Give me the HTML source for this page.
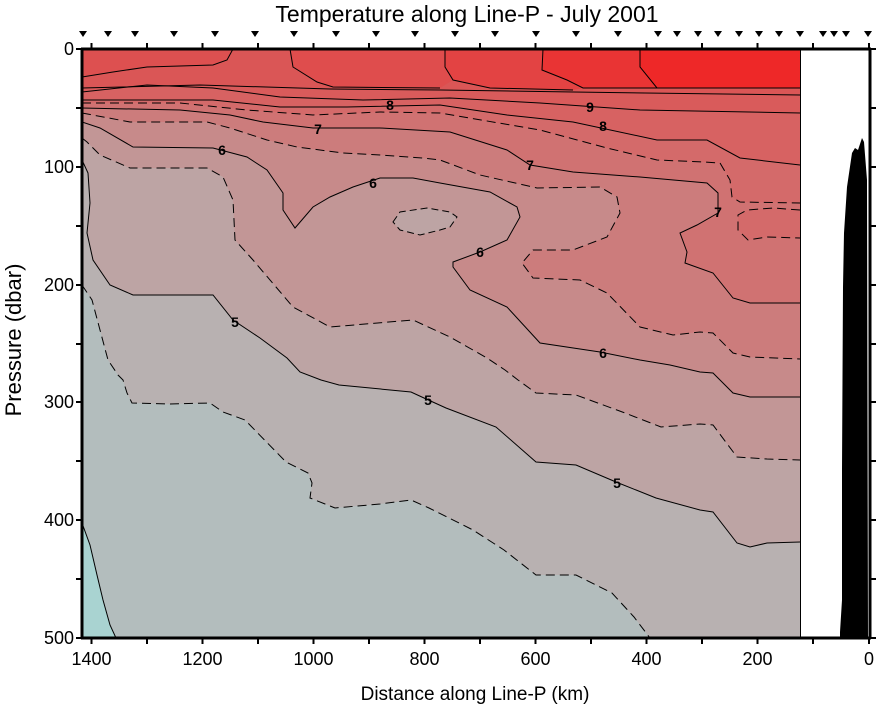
<!DOCTYPE html>
<html><head><meta charset="utf-8"><style>
html,body{margin:0;padding:0;background:#fff;width:878px;height:708px;overflow:hidden}
svg{display:block}
text{font-family:"Liberation Sans",sans-serif}
</style></head><body>
<svg width="878" height="708" viewBox="0 0 878 708" xmlns="http://www.w3.org/2000/svg">
<defs><clipPath id="c"><rect x="82" y="49" width="718" height="589"/></clipPath></defs>
<g clip-path="url(#c)">
<rect x="82" y="49" width="718" height="589" fill="#a9d3d1"/>
<polygon fill="#b3bdbd" points="82,523 90,545 97,575 103,600 110,625 116,638 800,638 800,49 82,49"/>
<polygon fill="#b8b1b1" points="82,285 92,300 100,330 108,360 118,375 123,380 127,393 132,403 170,404 210,403 223,412 245,420 286,462 308,473 312,483 310,498 335,508 380,504 411,500 429,508 473,530 504,550 536,575 576,575 612,593 634,617 650,638 800,638 800,49 82,49"/>
<polygon fill="#bda4a4" points="82,160 88,173 90,203 87,233 93,260 110,285 133,295 213,295 233,320 260,338 287,358 300,372 321,380 339,385 411,392 424,398 446,408 496,427 536,462 576,465 616,482 656,498 700,510 713,512 737,543 750,547 767,543 800,542 800,49 82,49"/>
<polygon fill="#c29696" points="82,138 87,142 100,155 130,168 207,168 223,177 233,200 235,240 253,260 293,307 330,327 413,320 450,337 487,358 505,370 518,380 536,393 576,395 625,413 661,427 700,424 713,425 737,457 767,459 800,460 800,49 82,49"/>
<polygon fill="#c78a8a" points="82,122 100,128 133,147 213,148 247,157 267,170 283,193 283,210 295,228 313,207 330,197 353,187 380,178 413,178 440,183 490,192 517,207 520,217 507,240 480,252 453,262 453,267 470,290 507,307 540,343 600,352 640,360 670,365 700,372 713,373 733,393 750,397 800,397 800,49 82,49"/>
<polygon fill="#cc7c7c" points="82,113 130,122 207,122 230,128 267,140 297,147 343,153 380,155 423,158 440,160 480,175 537,188 600,187 617,197 620,213 607,237 573,250 533,250 522,263 533,278 580,280 607,293 640,327 673,335 700,332 713,333 733,353 750,357 800,359 800,49 82,49"/>
<polygon fill="#d07272" points="82,108 180,110 230,115 263,122 313,128 380,128 450,132 507,150 530,165 573,172 640,177 707,183 718,193 718,213 697,225 680,233 687,252 685,263 713,273 733,298 750,303 800,303 800,49 82,49"/>
<polygon fill="#d46a6a" points="82,103 180,103 247,110 313,115 380,112 440,113 540,130 607,148 657,160 703,162 720,163 730,180 732,197 740,202 800,203 800,49 82,49"/>
<polygon fill="#d46a6a" points="800,210 773,208 747,210 738,215 738,230 748,240 767,237 800,238"/>
<polygon fill="#d76262" points="82,100 213,100 280,107 347,107 440,105 507,115 573,122 657,140 707,140 740,158 800,165 800,49 82,49"/>
<polygon fill="#d95b5b" points="82,92 147,85 213,88 280,97 363,100 450,98 540,103 640,110 800,113 800,49 82,49"/>
<polygon fill="#da5656" points="82,88 200,85 330,89 440,90 573,92 800,95 800,49 82,49"/>
<polygon fill="#dd5050" points="82,49 233,49 227,60 213,65 147,67 113,72 82,77"/>
<polygon fill="#df4d4d" points="290,49 293,67 317,82 333,87 440,88 453,80 445,67 445,49"/>
<polygon fill="#e34343" points="445,49 445,67 453,80 490,88 573,90 583,88 567,80 542,70 543,49"/>
<polygon fill="#e93434" points="543,49 542,70 567,80 583,88 657,88 640,67 640,49"/>
<polygon fill="#ee2828" points="640,49 640,67 657,88 800,88 800,49"/>
<polygon fill="#bda4a4" points="393,222 400,212 427,208 450,212 457,217 450,227 440,230 420,235 400,230"/>
<g fill="none" stroke="#000" stroke-width="1">
<polyline points="82,523 90,545 97,575 103,600 110,625 116,638"/>
<polyline stroke-dasharray="9,5" points="82,285 92,300 100,330 108,360 118,375 123,380 127,393 132,403 170,404 210,403 223,412 245,420 286,462 308,473 312,483 310,498 335,508 380,504 411,500 429,508 473,530 504,550 536,575 576,575 612,593 634,617 650,638"/>
<polyline points="82,160 88,173 90,203 87,233 93,260 110,285 133,295 213,295 233,320 260,338 287,358 300,372 321,380 339,385 411,392 424,398 446,408 496,427 536,462 576,465 616,482 656,498 700,510 713,512 737,543 750,547 767,543 800,542"/>
<polyline stroke-dasharray="9,5" points="82,138 87,142 100,155 130,168 207,168 223,177 233,200 235,240 253,260 293,307 330,327 413,320 450,337 487,358 505,370 518,380 536,393 576,395 625,413 661,427 700,424 713,425 737,457 767,459 800,460"/>
<polyline points="82,122 100,128 133,147 213,148 247,157 267,170 283,193 283,210 295,228 313,207 330,197 353,187 380,178 413,178 440,183 490,192 517,207 520,217 507,240 480,252 453,262 453,267 470,290 507,307 540,343 600,352 640,360 670,365 700,372 713,373 733,393 750,397 800,397"/>
<polyline stroke-dasharray="9,5" points="82,113 130,122 207,122 230,128 267,140 297,147 343,153 380,155 423,158 440,160 480,175 537,188 600,187 617,197 620,213 607,237 573,250 533,250 522,263 533,278 580,280 607,293 640,327 673,335 700,332 713,333 733,353 750,357 800,359"/>
<polyline points="82,108 180,110 230,115 263,122 313,128 380,128 450,132 507,150 530,165 573,172 640,177 707,183 718,193 718,213 697,225 680,233 687,252 685,263 713,273 733,298 750,303 800,303"/>
<polyline stroke-dasharray="9,5" points="82,103 180,103 247,110 313,115 380,112 440,113 540,130 607,148 657,160 703,162 720,163 730,180 732,197 740,202 800,203"/>
<polyline stroke-dasharray="9,5" points="800,210 773,208 747,210 738,215 738,230 748,240 767,237 800,238"/>
<polyline points="82,100 213,100 280,107 347,107 440,105 507,115 573,122 657,140 707,140 740,158 800,165"/>
<polyline points="82,92 147,85 213,88 280,97 363,100 450,98 540,103 640,110 800,113"/>
<polyline points="82,88 200,85 330,89 440,90 573,92 800,95"/>
<polyline points="233,49 227,60 213,65 147,67 113,72 82,77"/>
<polyline points="290,49 293,67 317,82 333,87 440,88"/>
<polyline points="445,49 445,67 453,80 490,88 573,90"/>
<polyline points="543,49 542,70 567,80 583,88 657,88"/>
<polyline points="640,49 640,67 657,88 800,88"/>
<polygon stroke-dasharray="7,4" points="393,222 400,212 427,208 450,212 457,217 450,227 440,230 420,235 400,230"/>
</g>
<g font-size="14" font-weight="bold" text-anchor="middle" fill="#000">
<text x="390" y="110">8</text><text x="590" y="112">9</text><text x="603" y="131">8</text>
<text x="318" y="134">7</text><text x="530" y="170">7</text><text x="718" y="217">7</text>
<text x="222" y="155">6</text><text x="373" y="188">6</text><text x="480" y="257">6</text>
<text x="603" y="358">6</text><text x="235" y="327">5</text><text x="428" y="405">5</text><text x="617" y="488">5</text>
</g>
</g>
<polygon fill="#000" points="840,638 840,632 842,600 842,470 843,287 844,233 847,187 852,153 855,148 858,150 862,138 864,142 867,180 868,638"/>
<rect x="800" y="49" width="1" height="589" fill="#000"/>
<g stroke="#000" stroke-width="3" fill="none">
<line x1="81" y1="49" x2="871" y2="49"/>
<line x1="81" y1="638" x2="871" y2="638"/>
<line x1="82" y1="48" x2="82" y2="639"/>
<line x1="870" y1="48" x2="870" y2="639"/>
</g>
<g stroke="#000" stroke-width="2">
<line x1="76" y1="49" x2="82" y2="49"/><line x1="76" y1="108" x2="82" y2="108"/><line x1="76" y1="167" x2="82" y2="167"/><line x1="76" y1="226" x2="82" y2="226"/><line x1="76" y1="285" x2="82" y2="285"/><line x1="76" y1="344" x2="82" y2="344"/><line x1="76" y1="402" x2="82" y2="402"/><line x1="76" y1="461" x2="82" y2="461"/><line x1="76" y1="520" x2="82" y2="520"/><line x1="76" y1="579" x2="82" y2="579"/><line x1="76" y1="638" x2="82" y2="638"/>
<line x1="870" y1="49" x2="876" y2="49"/><line x1="870" y1="108" x2="876" y2="108"/><line x1="870" y1="167" x2="876" y2="167"/><line x1="870" y1="226" x2="876" y2="226"/><line x1="870" y1="285" x2="876" y2="285"/><line x1="870" y1="344" x2="876" y2="344"/><line x1="870" y1="402" x2="876" y2="402"/><line x1="870" y1="461" x2="876" y2="461"/><line x1="870" y1="520" x2="876" y2="520"/><line x1="870" y1="579" x2="876" y2="579"/><line x1="870" y1="638" x2="876" y2="638"/>
</g>
<g stroke="#000" stroke-width="2">
<line x1="91.5" y1="638" x2="91.5" y2="644"/><line x1="147" y1="638" x2="147" y2="644"/><line x1="202.5" y1="638" x2="202.5" y2="644"/><line x1="258" y1="638" x2="258" y2="644"/><line x1="313.5" y1="638" x2="313.5" y2="644"/><line x1="369" y1="638" x2="369" y2="644"/><line x1="424.5" y1="638" x2="424.5" y2="644"/><line x1="480" y1="638" x2="480" y2="644"/><line x1="535.5" y1="638" x2="535.5" y2="644"/><line x1="591" y1="638" x2="591" y2="644"/><line x1="646.5" y1="638" x2="646.5" y2="644"/><line x1="702" y1="638" x2="702" y2="644"/><line x1="757.5" y1="638" x2="757.5" y2="644"/><line x1="813" y1="638" x2="813" y2="644"/><line x1="869" y1="638" x2="869" y2="644"/>
<line x1="91.5" y1="43" x2="91.5" y2="49"/><line x1="147" y1="43" x2="147" y2="49"/><line x1="202.5" y1="43" x2="202.5" y2="49"/><line x1="258" y1="43" x2="258" y2="49"/><line x1="313.5" y1="43" x2="313.5" y2="49"/><line x1="369" y1="43" x2="369" y2="49"/><line x1="424.5" y1="43" x2="424.5" y2="49"/><line x1="480" y1="43" x2="480" y2="49"/><line x1="535.5" y1="43" x2="535.5" y2="49"/><line x1="591" y1="43" x2="591" y2="49"/><line x1="646.5" y1="43" x2="646.5" y2="49"/><line x1="702" y1="43" x2="702" y2="49"/><line x1="757.5" y1="43" x2="757.5" y2="49"/><line x1="813" y1="43" x2="813" y2="49"/><line x1="869" y1="43" x2="869" y2="49"/>
</g>
<g fill="#000">
<path d="M79,31h8l-4,6z M104,31h8l-4,6z M131,31h8l-4,6z M170,31h8l-4,6z M211,31h8l-4,6z M251,31h8l-4,6z M290,31h8l-4,6z M332,31h8l-4,6z M372,31h8l-4,6z M411,31h8l-4,6z M451,31h8l-4,6z M491,31h8l-4,6z M532,31h8l-4,6z M572,31h8l-4,6z M614,31h8l-4,6z M654,31h8l-4,6z M673,31h8l-4,6z M694,31h8l-4,6z M714,31h8l-4,6z M735,31h8l-4,6z M755,31h8l-4,6z M775,31h8l-4,6z M796,31h8l-4,6z M819,31h8l-4,6z M830,31h8l-4,6z M842,31h8l-4,6z M864,31h8l-4,6z"/>
</g>
<text x="467" y="22" font-size="23" text-anchor="middle">Temperature along Line-P - July 2001</text>
<g font-size="18" text-anchor="end">
<text x="74" y="55">0</text><text x="74" y="173">100</text><text x="74" y="291">200</text><text x="74" y="408">300</text><text x="74" y="526">400</text><text x="74" y="644">500</text>
</g>
<g font-size="18" text-anchor="middle">
<text x="91.5" y="665">1400</text><text x="202.5" y="665">1200</text><text x="313.5" y="665">1000</text><text x="424.5" y="665">800</text><text x="535.5" y="665">600</text><text x="646.5" y="665">400</text><text x="757.5" y="665">200</text><text x="869" y="665">0</text>
</g>
<text x="475" y="700" font-size="19" text-anchor="middle">Distance along Line-P (km)</text>
<text transform="translate(21,340) rotate(-90)" font-size="22" text-anchor="middle">Pressure (dbar)</text>
</svg>
</body></html>
